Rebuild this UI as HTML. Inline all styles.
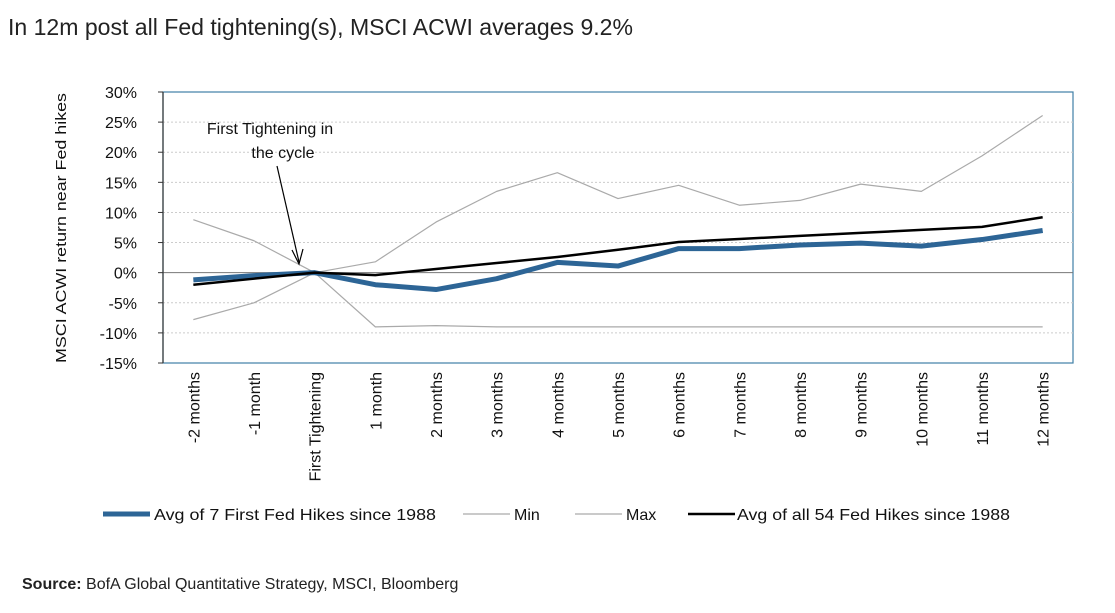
<!DOCTYPE html>
<html><head><meta charset="utf-8"><style>
body{margin:0;background:#fff;width:1115px;height:608px;overflow:hidden;font-family:"Liberation Sans",sans-serif}
</style></head><body>
<svg id="c" width="1115" height="608" xmlns="http://www.w3.org/2000/svg" font-family="Liberation Sans, sans-serif">
<text x="8" y="35" font-size="23" fill="#222" textLength="625" lengthAdjust="spacingAndGlyphs">In 12m post all Fed tightening(s), MSCI ACWI averages 9.2%</text>
<rect x="163" y="92" width="910" height="271" fill="none" stroke="#3f7fa6" stroke-width="1.2"/>
<g id="yt"></g><g id="xt"></g><g id="ser"></g>
<text transform="translate(66,228) rotate(-90)" text-anchor="middle" font-size="15" fill="#111" textLength="270" lengthAdjust="spacingAndGlyphs">MSCI ACWI return near Fed hikes</text>
<text x="270" y="134" text-anchor="middle" font-size="16" fill="#111">First Tightening in</text>
<text x="283" y="158" text-anchor="middle" font-size="16" fill="#111">the cycle</text>
<line x1="277" y1="166" x2="299" y2="262" stroke="#000" stroke-width="1.2"/>
<path d="M292,250 L299,264 L303,249" fill="none" stroke="#000" stroke-width="1.2"/>
<g font-size="16" fill="#111">
<line x1="103" y1="514" x2="150" y2="514" stroke="#2d6596" stroke-width="5"/>
<text x="154" y="520" textLength="282" lengthAdjust="spacingAndGlyphs">Avg of 7 First Fed Hikes since 1988</text>
<line x1="463" y1="514" x2="510" y2="514" stroke="#aaa" stroke-width="1.2"/>
<text x="514" y="520">Min</text>
<line x1="575" y1="514" x2="622" y2="514" stroke="#aaa" stroke-width="1.2"/>
<text x="626" y="520">Max</text>
<line x1="688" y1="514" x2="735" y2="514" stroke="#000" stroke-width="2.5"/>
<text x="737" y="520" textLength="273" lengthAdjust="spacingAndGlyphs">Avg of all 54 Fed Hikes since 1988</text>
</g>
<text x="22" y="589" font-size="16" fill="#222"><tspan font-weight="bold">Source:</tspan> BofA Global Quantitative Strategy, MSCI, Bloomberg</text>
</svg>
<script>
const categories=["-2 months","-1 month","First Tightening","1 month","2 months","3 months","4 months","5 months","6 months","7 months","8 months","9 months","10 months","11 months","12 months"];
const avg7=[-1.2,-0.5,0,-2,-2.8,-1,1.7,1.1,4,4,4.6,4.9,4.4,5.5,7];
const avg54=[-2,-1,0,-0.4,0.6,1.6,2.6,3.8,5.1,5.6,6.1,6.6,7.1,7.6,9.2];
const maxV=[8.8,5.3,0,1.8,8.4,13.5,16.6,12.3,14.5,11.2,12,14.7,13.5,19.4,26.1];
const minV=[-7.8,-5,0,-9,-8.8,-9,-9,-9,-9,-9,-9,-9,-9,-9,-9];
const yTicks=[30,25,20,15,10,5,0,-5,-10,-15];
const NS="http://www.w3.org/2000/svg";
const x0=163,pw=910,yTop=92,yBot=363,yMax=30,yMin=-15;
const xS=i=>x0+pw/categories.length*(i+0.5);
const yS=v=>yTop+(yMax-v)/(yMax-yMin)*(yBot-yTop);
function mk(t,a,p){const e=document.createElementNS(NS,t);for(const k in a)e.setAttribute(k,a[k]);p.appendChild(e);return e;}
const yt=document.getElementById('yt');
yTicks.forEach(v=>{const t=mk('text',{x:137,y:yS(v)+6,'text-anchor':'end','font-size':16,fill:'#111'},yt);t.textContent=v+'%';


if(v!==0&&v!==yMax&&v!==yMin)mk('line',{x1:x0,x2:x0+pw,y1:yS(v),y2:yS(v),stroke:'#ccc','stroke-dasharray':'2,2'},yt);
mk('line',{x1:158,x2:163,y1:yS(v),y2:yS(v),stroke:'#333'},yt);});
mk('line',{x1:x0,x2:x0+pw,y1:yS(0),y2:yS(0),stroke:'#777','stroke-width':1},yt);
mk('line',{x1:x0,x2:x0,y1:yTop,y2:yBot,stroke:'#333','stroke-width':1.2},yt);
const xt=document.getElementById('xt');
categories.forEach((c,i)=>{const x=xS(i)+6;const t=mk('text',{x:x,y:372,'text-anchor':'end','font-size':16,fill:'#111',transform:`rotate(-90 ${x} 372)`},xt);t.textContent=c;

});
const ser=document.getElementById('ser');
function line(d,st,w,name){const p=mk('polyline',{points:d.map((v,i)=>xS(i)+','+yS(v)).join(' '),fill:'none',stroke:st,'stroke-width':w,'stroke-linejoin':'round'},ser);

}
line(minV,'#aaa',1.2,'series-min');
line(maxV,'#aaa',1.2,'series-max');
line(avg7,'#2d6596',5,'series-avg7');
line(avg54,'#000',2.5,'series-avg54');
</script>
</body></html>
